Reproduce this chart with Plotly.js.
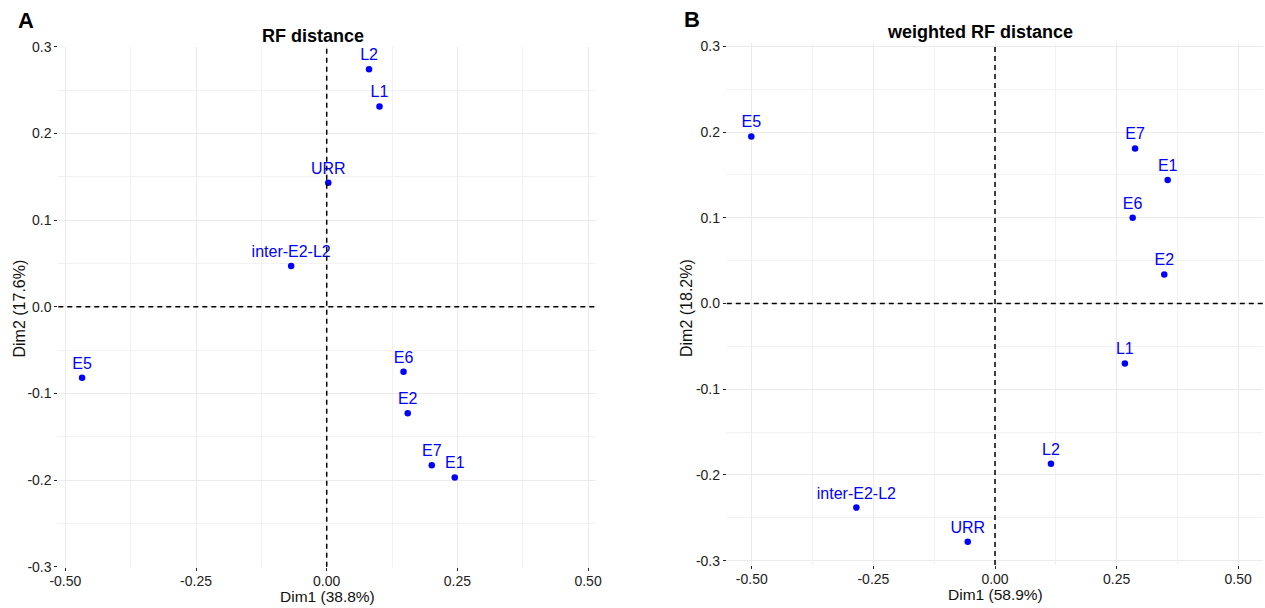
<!DOCTYPE html>
<html>
<head>
<meta charset="utf-8">
<script src="https://cdn.plot.ly/plotly-3.0.1.min.js"></script>
<style>
  html, body { margin: 0; padding: 0; background: #ffffff; }
  #chart { width: 1265px; height: 608px; }
</style>
</head>
<body>
<div id="chart"></div>
<script>
// ---- data ----
const labels = ['L2', 'L1', 'URR', 'inter-E2-L2', 'E5', 'E6', 'E2', 'E7', 'E1'];

// Panel A: RF distance
const rfDim1 = [0.081, 0.101, 0.003, -0.068, -0.468, 0.147, 0.155, 0.201, 0.245];
const rfDim2 = [0.274, 0.231, 0.143, 0.047, -0.082, -0.075, -0.123, -0.183, -0.197];

// Panel B: weighted RF distance
const wrfDim1 = [0.115, 0.267, -0.056, -0.285, -0.501, 0.283, 0.348, 0.288, 0.355];
const wrfDim2 = [-0.187, -0.070, -0.278, -0.238, 0.195, 0.100, 0.034, 0.181, 0.144];

const xTickVals = [-0.5, -0.25, 0, 0.25, 0.5];
const xTickText = ['-0.50', '-0.25', '0.00', '0.25', '0.50'];
const yTickVals = [-0.3, -0.2, -0.1, 0, 0.1, 0.2, 0.3];
const yTickText = ['-0.3', '-0.2', '-0.1', '0.0', '0.1', '0.2', '0.3'];
const xMinorVals = [-0.375, -0.125, 0.125, 0.375];
const yMinorVals = [-0.25, -0.15, -0.05, 0.05, 0.15, 0.25];

const panelTitles = ['RF distance', 'weighted RF distance'];
const panelTags = ['A', 'B'];
const xTitles = ['Dim1 (38.8%)', 'Dim1 (58.9%)'];
const yTitles = ['Dim2 (17.6%)', 'Dim2 (18.2%)'];

// ---- layout helpers ----
const W = 1265, H = 608;
const px = v => v / W;
const py = v => 1 - v / H;
const FONT = 'Liberation Sans, Arial, Helvetica, sans-serif';
const BLUE = '#0000ff';
const TXT = '#111111';
const TICK = '#222222';

function pointTrace(xs, ys, xa, ya) {
  return {
    type: 'scatter', mode: 'markers+text',
    x: xs, y: ys, text: labels,
    xaxis: xa, yaxis: ya,
    textposition: 'top center',
    textfont: { family: FONT, size: 16, color: BLUE },
    marker: { color: BLUE, size: 6.5 },
    cliponaxis: false,
    hoverinfo: 'skip',
    showlegend: false
  };
}

function xAxis(range, domain, anchor) {
  return {
    range: range, domain: domain, anchor: anchor,
    tickmode: 'array', tickvals: xTickVals, ticktext: xTickText,
    ticks: 'outside', ticklen: 3, tickwidth: 1, tickcolor: TICK,
    ticklabelstandoff: -2,
    tickfont: { family: FONT, size: 14, color: TICK },
    showgrid: true, gridcolor: '#ebebeb', gridwidth: 1,
    minor: { tickmode: 'array', tickvals: xMinorVals, showgrid: true, gridcolor: '#f2f2f2', gridwidth: 1, ticks: '' },
    zeroline: false, showline: false, fixedrange: true
  };
}
function yAxis(range, domain, anchor) {
  return {
    range: range, domain: domain, anchor: anchor,
    tickmode: 'array', tickvals: yTickVals, ticktext: yTickText,
    ticks: 'outside', ticklen: 3, tickwidth: 1, tickcolor: TICK,
    tickfont: { family: FONT, size: 14, color: TICK },
    showgrid: true, gridcolor: '#ebebeb', gridwidth: 1,
    minor: { tickmode: 'array', tickvals: yMinorVals, showgrid: true, gridcolor: '#f2f2f2', gridwidth: 1, ticks: '' },
    zeroline: false, showline: false, fixedrange: true
  };
}

const data = [
  pointTrace(rfDim1, rfDim2, 'x', 'y'),
  pointTrace(wrfDim1, wrfDim2, 'x2', 'y2')
];

const dashLine = { color: '#000000', width: 1.5, dash: '5px,4px' };

const layout = {
  width: W, height: H,
  margin: { l: 0, r: 0, t: 0, b: 0, pad: 0 },
  paper_bgcolor: '#ffffff', plot_bgcolor: '#ffffff',
  showlegend: false,
  xaxis: xAxis([-0.5135, 0.515], [px(58.3), px(595.9)], 'y'),
  yaxis: yAxis([-0.3, 0.3], [py(566.7), py(46.7)], 'x'),
  xaxis2: xAxis([-0.5514, 0.5514], [px(726.8), px(1263.2)], 'y2'),
  yaxis2: yAxis([-0.305, 0.3036], [py(565), py(43.3)], 'x2'),
  shapes: [
    { type: 'line', xref: 'x', yref: 'y domain', x0: 0, x1: 0, y0: 0, y1: 1, line: dashLine, layer: 'above' },
    { type: 'line', xref: 'x domain', yref: 'y', x0: 0, x1: 1, y0: 0, y1: 0, line: dashLine, layer: 'above' },
    { type: 'line', xref: 'x2', yref: 'y2 domain', x0: 0, x1: 0, y0: 0, y1: 1, line: dashLine, layer: 'above' },
    { type: 'line', xref: 'x2 domain', yref: 'y2', x0: 0, x1: 1, y0: 0, y1: 0, line: dashLine, layer: 'above' }
  ],
  annotations: [
    { text: '<b>' + panelTags[0] + '</b>', x: px(26), y: py(20), xref: 'paper', yref: 'paper', showarrow: false, xanchor: 'center', yanchor: 'middle', font: { family: FONT, size: 22, color: '#000' } },
    { text: '<b>' + panelTags[1] + '</b>', x: px(692), y: py(19), xref: 'paper', yref: 'paper', showarrow: false, xanchor: 'center', yanchor: 'middle', font: { family: FONT, size: 22, color: '#000' } },
    { text: '<b>' + panelTitles[0] + '</b>', x: px(313), y: py(36), xref: 'paper', yref: 'paper', showarrow: false, xanchor: 'center', yanchor: 'middle', font: { family: FONT, size: 18, color: '#000' } },
    { text: '<b>' + panelTitles[1] + '</b>', x: px(980), y: py(32), xref: 'paper', yref: 'paper', showarrow: false, xanchor: 'center', yanchor: 'middle', font: { family: FONT, size: 18, color: '#000' } },
    { text: xTitles[0], x: px(327), y: py(596), xref: 'paper', yref: 'paper', showarrow: false, xanchor: 'center', yanchor: 'middle', font: { family: FONT, size: 15.5, color: TXT } },
    { text: xTitles[1], x: px(995), y: py(594), xref: 'paper', yref: 'paper', showarrow: false, xanchor: 'center', yanchor: 'middle', font: { family: FONT, size: 15.5, color: TXT } },
    { text: yTitles[0], x: px(18.5), y: py(309), xref: 'paper', yref: 'paper', showarrow: false, xanchor: 'center', yanchor: 'middle', textangle: -90, font: { family: FONT, size: 16, color: TXT } },
    { text: yTitles[1], x: px(686), y: py(308), xref: 'paper', yref: 'paper', showarrow: false, xanchor: 'center', yanchor: 'middle', textangle: -90, font: { family: FONT, size: 16, color: TXT } }
  ]
};

Plotly.newPlot('chart', data, layout, { staticPlot: true, displayModeBar: false });
</script>
</body>
</html>
